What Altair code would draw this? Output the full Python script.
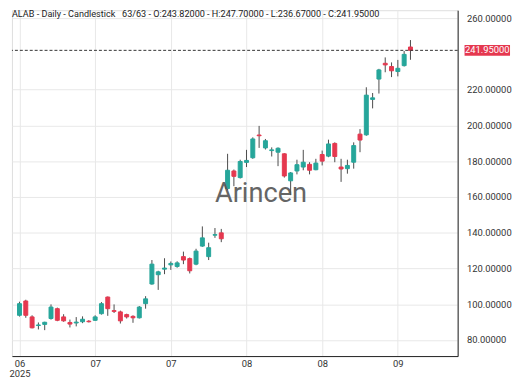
import json
import altair as alt
import pandas as pd

# ---------------- data ----------------
idx = list(range(63))
opens = [93.8, 101.8, 92.9, 88.1, 88.7, 92.0, 97.5, 92.9, 89.8, 89.5,
         90.2, 90.5, 91.0, 94.7, 104.0, 96.4, 95.7, 94.2, 93.2, 92.4,
         100.3, 111.3, 116.5, 119.6, 122.0, 121.1, 126.6, 125.5, 122.4, 132.5,
         126.6, 138.6, 139.9, 164.7, 174.5, 170.8, 179.3, 181.9, 194.6, 187.4,
         185.9, 185.0, 184.1, 169.0, 174.5, 176.7, 178.2, 175.2, 183.7, 182.8,
         189.9, 176.7, 175.8, 179.4, 195.1, 194.7, 214.5, 225.9, 234.7, 232.9,
         230.1, 233.4, 243.82]
highs = [101.4, 102.5, 93.8, 89.8, 90.2, 99.9, 98.1, 94.4, 91.4, 92.8,
         93.2, 91.1, 93.8, 101.2, 104.3, 99.9, 96.4, 94.7, 93.8, 99.0,
         104.5, 124.7, 118.7, 125.7, 123.9, 124.0, 129.4, 126.1, 131.0, 143.5,
         134.4, 142.6, 142.1, 184.1, 175.3, 180.8, 186.3, 193.3, 199.7, 192.4,
         187.7, 187.7, 184.4, 173.9, 180.8, 186.3, 179.4, 181.3, 185.9, 192.0,
         190.5, 181.3, 180.8, 190.5, 197.9, 221.3, 218.1, 231.6, 238.0, 235.2,
         236.6, 241.6, 247.70]
lows = [93.1, 92.4, 86.5, 85.9, 85.5, 91.4, 90.5, 90.2, 87.0, 87.6,
        89.4, 89.8, 90.7, 94.2, 93.5, 95.1, 89.2, 92.0, 89.6, 92.0,
        97.5, 110.9, 108.0, 116.8, 119.2, 120.4, 122.4, 117.2, 121.8, 132.1,
        124.7, 137.1, 134.7, 163.8, 166.0, 170.3, 176.7, 181.3, 187.4, 186.5,
        182.6, 177.2, 170.8, 161.0, 172.6, 174.9, 172.6, 174.9, 177.6, 182.2,
        179.4, 168.4, 173.0, 175.8, 185.0, 194.2, 209.5, 217.8, 229.7, 227.0,
        227.4, 232.9, 236.67]
closes = [100.3, 93.8, 86.8, 88.4, 89.9, 98.4, 91.0, 90.7, 88.9, 90.0,
          91.6, 90.2, 92.9, 100.3, 97.5, 96.0, 90.7, 92.9, 92.4, 98.4,
          103.0, 122.4, 118.1, 120.2, 122.8, 123.1, 124.7, 118.7, 129.7, 137.1,
          131.6, 138.9, 136.6, 174.9, 171.5, 179.8, 180.4, 192.4, 194.2, 191.4,
          186.3, 187.2, 171.7, 173.4, 178.0, 179.4, 174.9, 178.9, 180.0, 189.6,
          182.6, 175.6, 177.6, 188.7, 191.8, 216.9, 215.4, 231.0, 233.8, 230.5,
          231.9, 239.7, 241.95]

tick_idx = [0, 12, 24, 36, 48, 60]
tick_labels = ["06", "07", "07", "08", "08", "09"]
year_label = "2025"
y_ticks = [80, 100, 120, 140, 160, 180, 200, 220, 260]
last_price = [241.95]
title_text = ["ALAB - Daily - Candlestick\u00a0\u00a0\u00a063/63 - O:243.82000 - H:247.70000 - L:236.67000 - C:241.95000"]
watermark = ["Arincen"]

# ---------------- styling ----------------
W, H = 451, 350
GREEN = "#26a69a"
RED = "#e5384f"
GRID = "#e8e8e8"
FONT = "Roboto"

df = pd.DataFrame({"i": idx, "o": opens, "h": highs, "l": lows, "c": closes})
price_df = pd.DataFrame({"p": last_price})

xscale = alt.Scale(domain=[-0.41, 68.7], nice=False, zero=False)
yscale = alt.Scale(domain=[71.0, 264.4], nice=False, zero=False)

label_expr = (
    f"datum.value == {tick_idx[0]} ? [{json.dumps(tick_labels[0])}, {json.dumps(year_label)}] : "
    f"{json.dumps(tick_labels)}[indexof({json.dumps(tick_idx)}, datum.value)]"
)

xaxis = alt.Axis(values=tick_idx, labelExpr=label_expr, title=None, grid=True,
                 ticks=False, domain=True, domainColor="#222", gridColor=GRID,
                 labelFontSize=9.5, labelColor="#333", labelPadding=3,
                 labelFlush=5, labelLineHeight=10, labelFont=FONT)
yaxis = alt.Axis(orient="right", values=y_ticks, format=".5f", title=None,
                 grid=True, ticks=False, domain=True, domainColor="#222",
                 gridColor=GRID,
                 labelFontSize=9.5, labelPadding=9, labelColor="#333", labelFont=FONT)

base = alt.Chart(df)
cond = alt.condition("datum.c >= datum.o", alt.value(GREEN), alt.value(RED))

wicks = base.mark_rule(color="#4a4a4a", strokeWidth=1).encode(
    x=alt.X("i:Q", scale=xscale, axis=xaxis),
    y=alt.Y("l:Q", scale=yscale, axis=yaxis),
    y2="h:Q",
)
bodies = base.mark_bar(size=4, strokeWidth=1).encode(
    x=alt.X("i:Q", scale=xscale),
    y=alt.Y("o:Q", scale=yscale),
    y2="c:Q",
    fill=cond,
    stroke=cond,
)

last_line = alt.Chart(price_df).mark_rule(strokeDash=[3, 2], color="#333", strokeWidth=1).encode(
    y=alt.Y("p:Q", scale=yscale)
)
badge = alt.Chart(price_df).transform_calculate(
    lo="datum.p - 3.0", hi="datum.p + 3.0"
).mark_rect(color=RED).encode(
    x=alt.value(W + 7), x2=alt.value(W + 53),
    y=alt.Y("lo:Q", scale=yscale), y2="hi:Q",
)
badge_text = alt.Chart(price_df).mark_text(
    color="white", fontSize=9.5, align="center", baseline="middle", font=FONT
).encode(
    x=alt.value(W + 30),
    y=alt.Y("p:Q", scale=yscale),
    text=alt.Text("p:Q", format=".5f"),
)

wm = alt.Chart(pd.DataFrame({"t": watermark})).mark_text(
    fontSize=27.5, color="#555", opacity=0.9, align="center", baseline="middle", font=FONT
).encode(x=alt.value(252), y=alt.value(186), text="t:N")

ttl = alt.Chart(pd.DataFrame({"t": title_text})).mark_text(
    fontSize=9.2, color="#222", align="left", baseline="middle", font=FONT
).encode(x=alt.value(0), y=alt.value(4), text="t:N")

chart = alt.layer(wicks, bodies, last_line, badge, badge_text, wm, ttl).properties(
    width=W, height=H, padding=0
).configure_view(strokeWidth=0).configure(font=FONT, background="white")

chart.save("out.html", embed_options={"renderer": "svg", "actions": False})
